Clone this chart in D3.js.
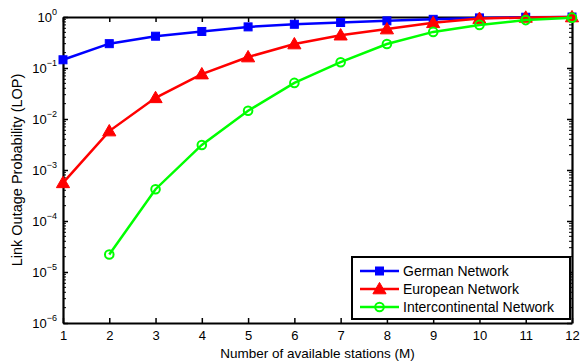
<!DOCTYPE html>
<html>
<head>
<meta charset="utf-8">
<script src="https://cdn.jsdelivr.net/npm/d3@7"></script>
<style>
  body { margin: 0; background: #fff; }
  svg { display: block; font-family: "Liberation Sans", Arial, sans-serif; }
</style>
</head>
<body>
<div id="chart"></div>
<script>
const stations = [1, 2, 3, 4, 5, 6, 7, 8, 9, 10, 11, 12];
const germanLOP = [0.145, 0.30, 0.42, 0.52, 0.64, 0.72, 0.78, 0.84, 0.90, 0.96, 0.99, 1.0];
const europeanLOP = [5.6e-4, 5.8e-3, 0.026, 0.076, 0.164, 0.295, 0.44, 0.58, 0.77, 0.93, 0.98, 1.0];
const interStations = [2, 3, 4, 5, 6, 7, 8, 9, 10, 11, 12];
const interLOP = [2.2e-5, 4.2e-4, 3.1e-3, 0.0145, 0.051, 0.13, 0.295, 0.51, 0.70, 0.87, 0.97];
const yExponents = [0, -1, -2, -3, -4, -5, -6];

const series = [
  { name: 'German Network', color: '#0000ff', marker: 'square', x: stations, y: germanLOP },
  { name: 'European Network', color: '#ff0000', marker: 'triangle', x: stations, y: europeanLOP },
  { name: 'Intercontinental Network', color: '#00ff00', marker: 'circle', x: interStations, y: interLOP }
];

const width = 581;
const height = 362;
const margin = { top: 17, right: 9, bottom: 39, left: 63 };
const innerWidth = width - margin.left - margin.right;
const innerHeight = height - margin.top - margin.bottom;

const svg = d3.select('#chart')
  .append('svg')
  .attr('width', width)
  .attr('height', height);

const g = svg.append('g').attr('transform', `translate(${margin.left}, ${margin.top})`);

const x = d3.scaleLinear().domain([1, 12]).range([0, innerWidth]);
const y = d3.scaleLog().domain([1e-6, 1]).range([innerHeight, 0]);

const majorY = yExponents.map(e => Math.pow(10, e));
const minorY = [];
for (let e = -6; e < 0; e++) {
  for (let m = 2; m <= 9; m++) minorY.push(m * Math.pow(10, e));
}

// minor ticks on left and right
g.append('g').selectAll('line')
  .data(minorY)
  .join('line')
  .attr('x1', 0).attr('x2', 3)
  .attr('y1', d => y(d)).attr('y2', d => y(d))
  .attr('stroke', '#000').attr('stroke-width', 1);
g.append('g').selectAll('line')
  .data(minorY)
  .join('line')
  .attr('x1', innerWidth).attr('x2', innerWidth - 3)
  .attr('y1', d => y(d)).attr('y2', d => y(d))
  .attr('stroke', '#000').attr('stroke-width', 1);

// bottom axis
const xAxis = g.append('g')
  .attr('transform', `translate(0, ${innerHeight})`)
  .call(d3.axisBottom(x).tickValues(stations).tickFormat(d3.format('d')).tickSizeInner(-5).tickSizeOuter(0).tickPadding(8));
// top axis
const xTop = g.append('g')
  .call(d3.axisTop(x).tickValues(stations).tickFormat('').tickSizeInner(-5).tickSizeOuter(0));
// left axis
const yAxis = g.append('g')
  .call(d3.axisLeft(y).tickValues(majorY).tickFormat('').tickSizeInner(-5).tickSizeOuter(0).tickPadding(6));
// right axis
const yRight = g.append('g')
  .attr('transform', `translate(${innerWidth}, 0)`)
  .call(d3.axisRight(y).tickValues(majorY).tickFormat('').tickSizeInner(-5).tickSizeOuter(0));

[xAxis, xTop, yAxis, yRight].forEach(a => {
  a.select('.domain').attr('stroke-width', 2.2);
  a.selectAll('.tick line').attr('stroke-width', 1.5);
});

xAxis.selectAll('.tick text')
  .attr('font-size', 13)
  .attr('font-family', '"Liberation Sans", Arial, sans-serif')
  .attr('fill', '#000');

// y labels as 10 with superscript
yAxis.selectAll('.tick').each(function (d) {
  const t = d3.select(this).select('text');
  t.text(null)
    .attr('x', -6)
    .attr('dy', '0.45em')
    .attr('text-anchor', 'end')
    .attr('font-family', '"Liberation Sans", Arial, sans-serif')
    .attr('fill', '#000');
  t.append('tspan').attr('font-size', 13).text('10');
  const e = Math.round(Math.log10(d));
  t.append('tspan').attr('font-size', 9).attr('dy', '-0.75em').text(e === 0 ? '0' : '\u2212' + Math.abs(e));
});

// lines and markers
const line = d3.line().x(d => x(d[0])).y(d => y(d[1]));
const tri = d3.symbol().type(d3.symbolTriangle).size(75);

function drawMarker(sel, s, cx, cy) {
  if (s.marker === 'square') {
    sel.append('rect')
      .attr('x', cx - 4).attr('y', cy - 4).attr('width', 8).attr('height', 8)
      .attr('fill', s.color).attr('stroke', s.color).attr('stroke-width', 1);
  } else if (s.marker === 'triangle') {
    sel.append('path')
      .attr('d', tri())
      .attr('transform', `translate(${cx}, ${cy + 1})`)
      .attr('fill', s.color).attr('stroke', s.color).attr('stroke-width', 1);
  } else {
    sel.append('circle')
      .attr('cx', cx).attr('cy', cy).attr('r', 4.3)
      .attr('fill', 'none').attr('stroke', s.color).attr('stroke-width', 2);
  }
}

series.forEach(s => {
  const pts = s.x.map((v, i) => [v, s.y[i]]);
  const sg = g.append('g');
  sg.append('path')
    .datum(pts)
    .attr('d', line)
    .attr('fill', 'none')
    .attr('stroke', s.color)
    .attr('stroke-width', 2.5);
  pts.forEach(p => drawMarker(sg, s, x(p[0]), y(p[1])));
});

// legend
const legend = g.append('g').attr('transform', `translate(${352 - margin.left}, ${257 - margin.top})`);
legend.append('rect')
  .attr('width', 218).attr('height', 62)
  .attr('fill', '#fff').attr('stroke', '#000').attr('stroke-width', 2);
series.forEach((s, i) => {
  const ly = 14 + i * 18;
  legend.append('line')
    .attr('x1', 8).attr('x2', 47).attr('y1', ly).attr('y2', ly)
    .attr('stroke', s.color).attr('stroke-width', 2.5);
  drawMarker(legend, s, 27.5, ly);
  legend.append('text')
    .attr('x', 51).attr('y', ly).attr('dy', '0.35em')
    .attr('font-size', 14)
    .attr('fill', '#000')
    .text(s.name);
});

// axis titles
svg.append('text')
  .attr('x', margin.left + innerWidth / 2)
  .attr('y', 358)
  .attr('text-anchor', 'middle')
  .attr('font-size', 13.5)
  .text('Number of available stations (M)');

svg.append('text')
  .attr('transform', `translate(22, ${margin.top + innerHeight / 2}) rotate(-90)`)
  .attr('text-anchor', 'middle')
  .attr('font-size', 14.5)
  .text('Link Outage Probability (LOP)');
</script>
</body>
</html>
